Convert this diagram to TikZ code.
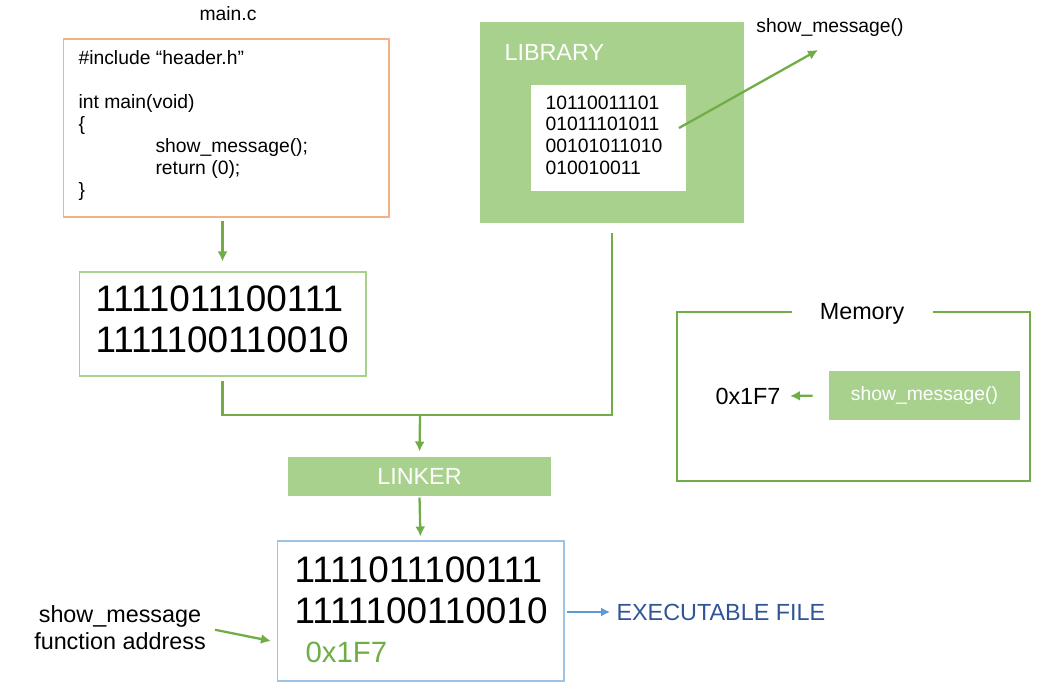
\documentclass[tikz,border=0pt]{standalone}
\usepackage{fontspec}
\setmainfont{Liberation Sans}
\usetikzlibrary{arrows.meta}

\definecolor{verde}{HTML}{70AD47}
\definecolor{verdeclaro}{HTML}{A9D18E}
\definecolor{naranja}{HTML}{F4B183}
\definecolor{celeste}{HTML}{9DC3E6}
\definecolor{azulflecha}{HTML}{5B9BD5}
\definecolor{azul}{HTML}{2F5597}

\newcommand{\txtsmall}{\fontsize{11}{12.5}\selectfont}
\newcommand{\txtmid}{\fontsize{13.3}{15.5}\selectfont}
\newcommand{\txtbig}{\fontsize{21}{23.2}\selectfont}
\newcommand{\txtaddr}{\fontsize{16.7}{20}\selectfont}

\begin{document}
\begin{tikzpicture}[x=0.02cm,y=-0.02cm,line width=0.6pt,>={Latex[length=2mm,width=2mm]},
  caja/.style={draw,inner sep=0pt},
  verdebox/.style={fill=verdeclaro,inner sep=0pt,text=white,font=\txtmid},
  flow/.style={->,verde,line width=1.3pt},
  link/.style={verde,line width=1.3pt}]
  \useasboundingbox (0,0) rectangle (1050,689);
  % fuente
  \node[font=\txtsmall] (srcname) at (228,14) {main.c};
  \node[caja,draw=naranja,minimum width=6.52cm,minimum height=3.56cm] (src) at (226,128) {};
  \node[anchor=north west,align=left,inner sep=0pt,font=\txtsmall] (srctxt) at (78,50)
    {\#include “header.h”\\[12.5pt]int main(void)\\\{\\\hspace*{1.54cm}show\_message();\\\hspace*{1.54cm}return (0);\\\}};
  % objeto
  \node[caja,draw=verdeclaro,minimum width=5.74cm,minimum height=2.08cm] (bin) at (222.5,324) {};
  \node[anchor=north west,align=left,inner sep=0pt,font=\txtbig] (bintxt) at (95,285) {1111011100111\\1111100110010};
  \draw[flow,shorten <=0.6mm,shorten >=2mm] (bin.north |- src.south) -- (bin.north);
  % biblioteca
  \node[verdebox,minimum width=5.28cm,minimum height=4.02cm] (lib) at (612,122.5) {};
  \node[anchor=west,inner sep=0pt,text=white,font=\txtmid] (libname) at (504,52) {LIBRARY};
  \node[caja,draw=verdeclaro,fill=white,minimum width=3.14cm,minimum height=2.16cm] (libin) at (608.5,138) {};
  \node[anchor=north west,align=left,inner sep=0pt,font=\txtsmall] (libtxt) at (545,95) {10110011101\\01011101011\\00101011010\\010010011};
  \node[font=\txtsmall] (smlabel) at (830,28) {show\_message()};
  \coordinate (libout) at (679,128);
  \coordinate (smend) at (818,50);
  \draw[flow] (libout) -- (smend);
  % enlazador
  \coordinate (jn) at (420,415);
  \node[verdebox,minimum width=5.26cm,minimum height=0.78cm] (lnk) at (419.5,476.5) {LINKER};
  \draw[link,shorten <=0.8mm,shorten >=1.8mm] (bin.south) |- (lib.south |- jn) -- (lib.south);
  \draw[flow,shorten >=1mm] (jn) -- (lnk.north);
  % ejecutable
  \node[caja,draw=celeste,minimum width=5.74cm,minimum height=2.8cm] (exe) at (420.5,611) {};
  \node[anchor=north west,align=left,inner sep=0pt,font=\txtbig] (exetxt) at (294,556) {1111011100111\\1111100110010};
  \node[anchor=west,inner sep=0pt,text=verde,font=\txtaddr] (exeaddr) at (305,652) {0x1F7};
  \draw[flow,shorten <=0.2mm,shorten >=0.8mm] (lnk.south) -- (exe.north);
  \node[anchor=west,inner sep=0pt,text=azul,font=\txtmid] (exefile) at (616,612) {EXECUTABLE FILE};
  \draw[->,azulflecha,line width=0.8pt,>={Latex[length=1.8mm,width=1.8mm]},shorten <=0.4mm,shorten >=1.2mm] (exe.east |- exefile.west) -- (exefile.west);
  \node[align=center,inner sep=0pt,font=\txtmid] (fnaddr) at (120,628) {show\_message\\function address};
  \coordinate (addrin) at (271,641);
  \draw[flow,shorten <=1.8mm] (fnaddr.east) -- (addrin);
  % memoria
  \node[caja,draw=verde,line width=1.4pt,minimum width=7.06cm,minimum height=3.38cm] (mem) at (853.5,396.5) {};
  \node[fill=white,minimum width=2.82cm,font=\txtmid] (memlbl) at (862,314) {Memory};
  \node[verdebox,font=\txtsmall,minimum width=3.82cm,minimum height=0.98cm] (smbox) at (924.5,395.5) {show\_message()};
  \node[anchor=east,inner sep=0pt,font=\txtmid] (addr) at (781,396) {0x1F7};
  \draw[flow,shorten <=3.2mm,shorten >=1.8mm] (smbox.west) -- (addr.east);
\end{tikzpicture}
\end{document}
